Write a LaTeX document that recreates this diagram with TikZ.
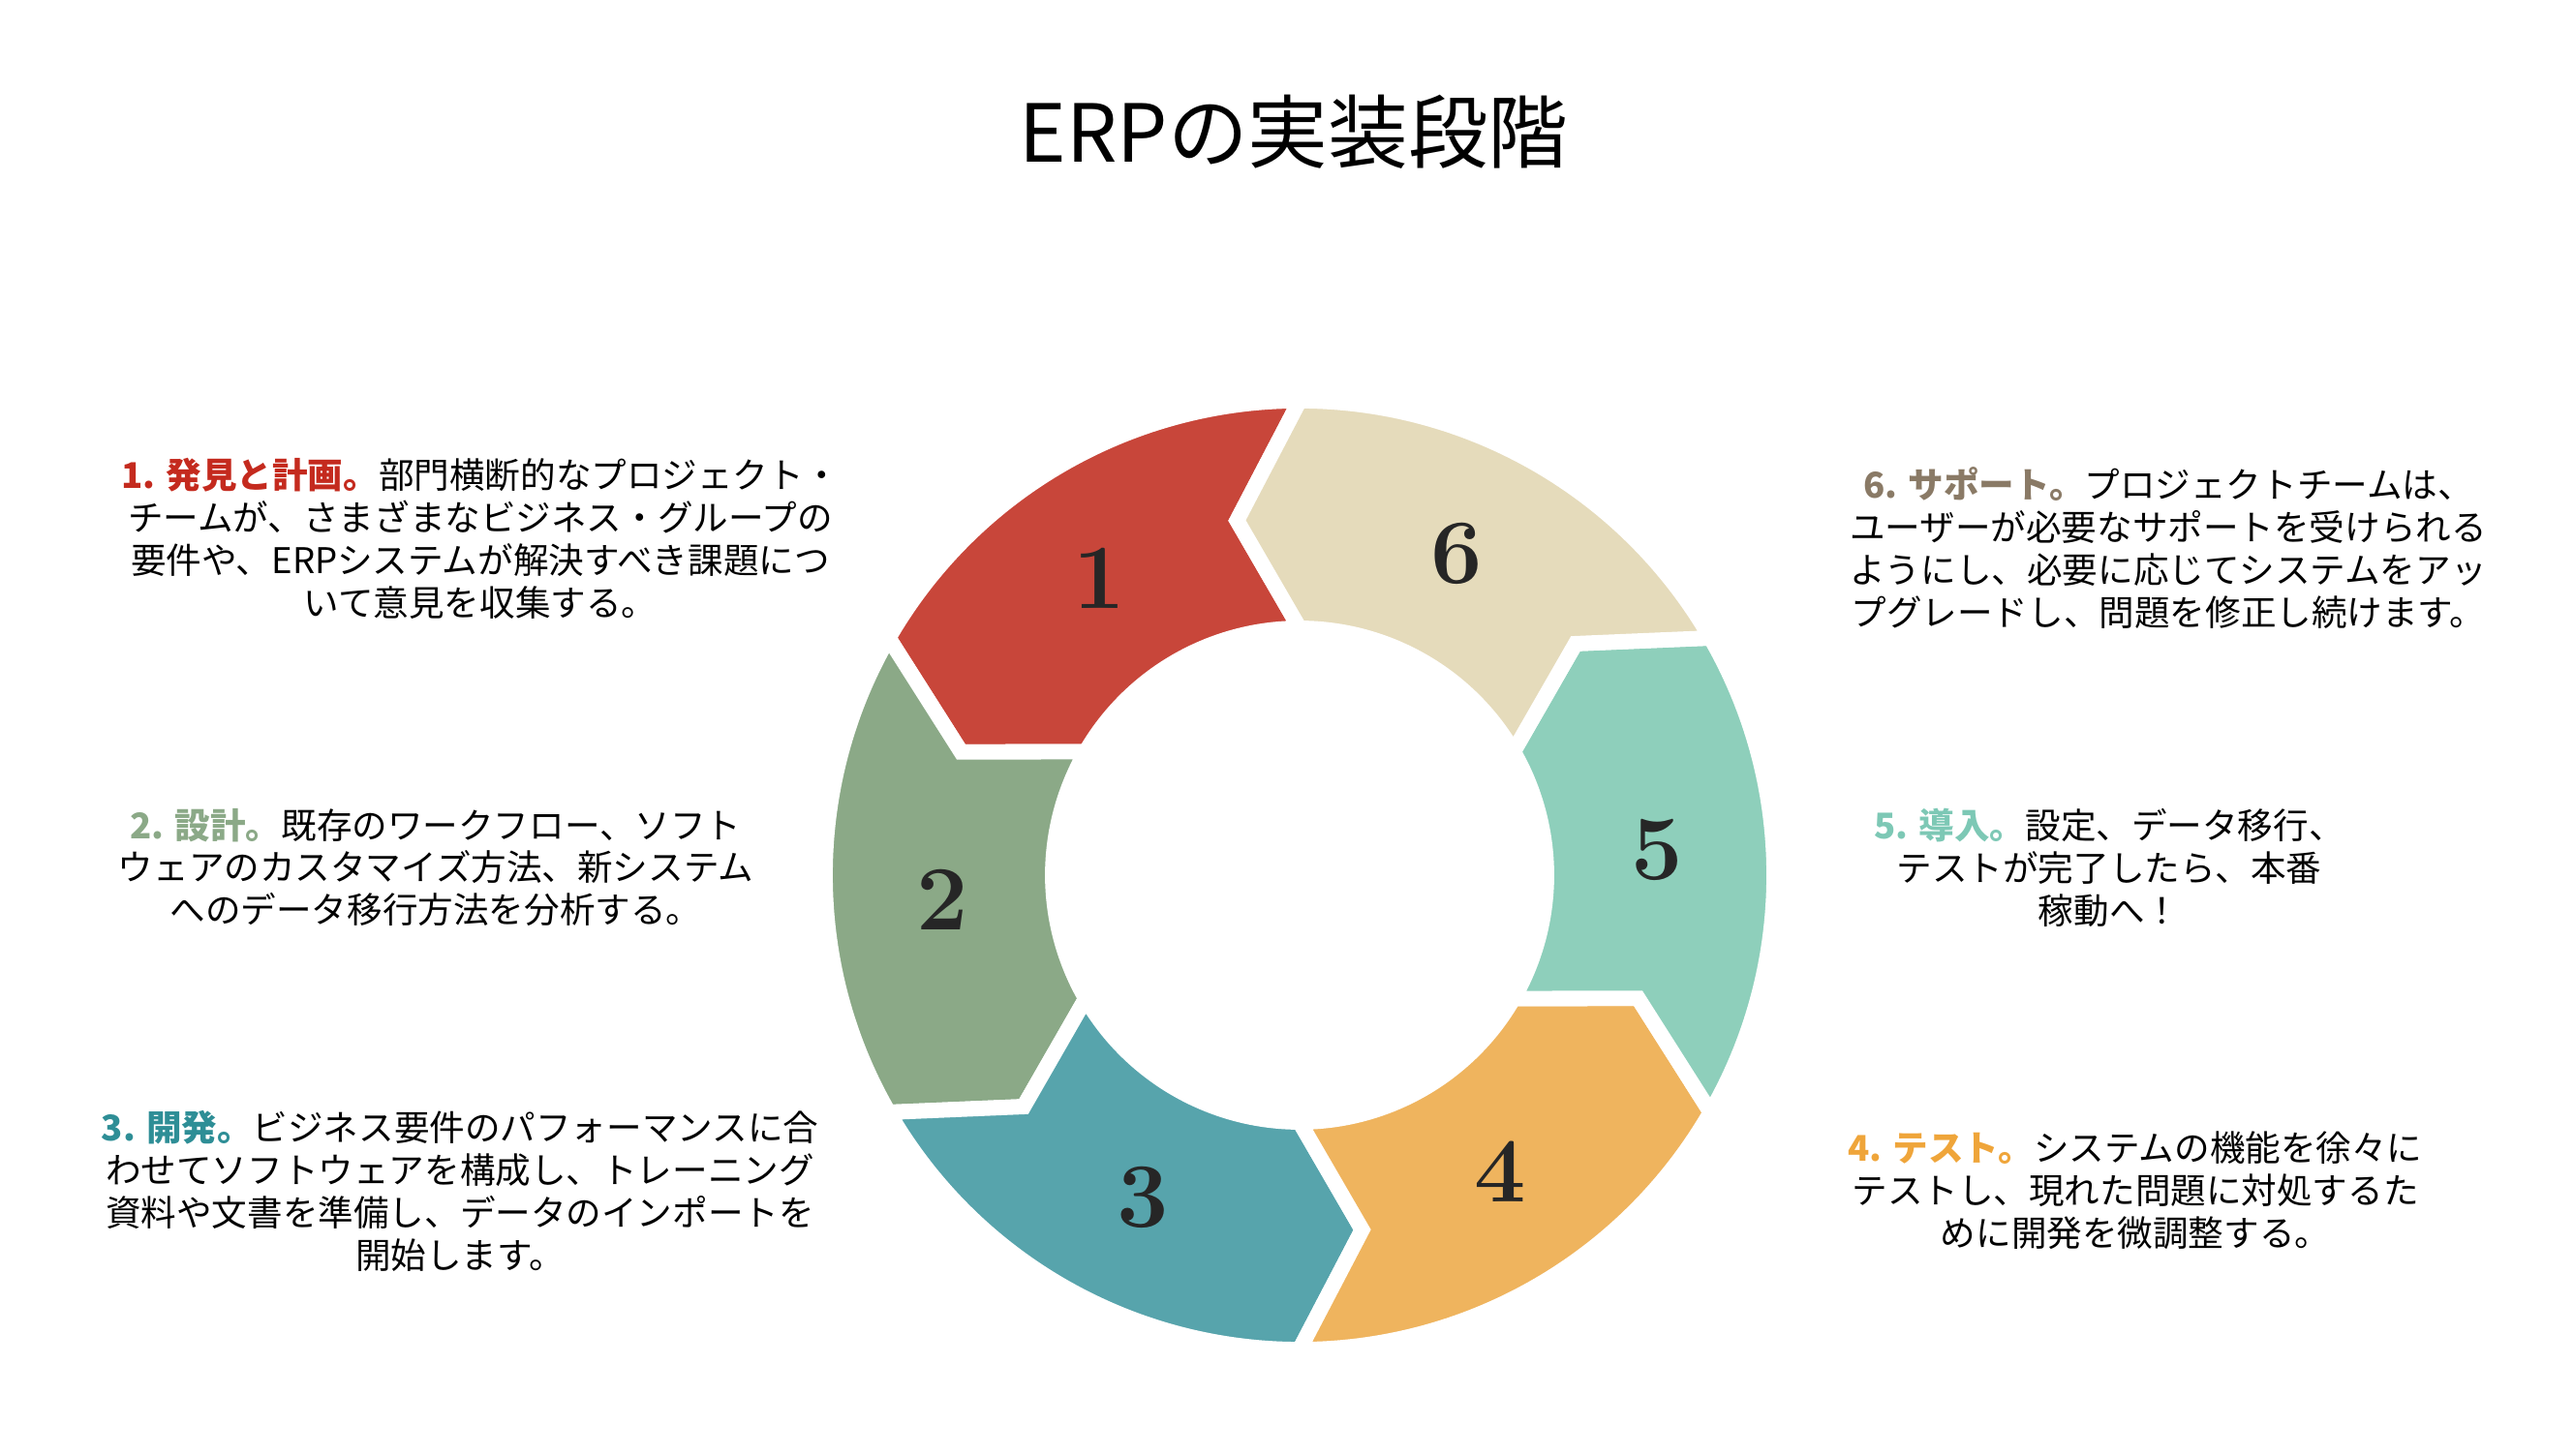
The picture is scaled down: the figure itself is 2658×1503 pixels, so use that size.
\documentclass[tikz,border=0pt]{standalone}
\usepackage{fontspec}
\setmainfont{Noto Sans CJK JP}
\newfontfamily\digitfont{Latin Modern Roman}
\usetikzlibrary{positioning, calc}
\definecolor{segred}{HTML}{C8463A}
\definecolor{segsand}{HTML}{E5DBBB}
\definecolor{segmint}{HTML}{8ECFBB}
\definecolor{segorange}{HTML}{EFB45E}
\definecolor{segteal}{HTML}{57A4AC}
\definecolor{seggreen}{HTML}{8BA987}
\definecolor{headred}{HTML}{C42A1E}
\definecolor{headgreen}{HTML}{8BA987}
\definecolor{headteal}{HTML}{2E8E96}
\definecolor{headorange}{HTML}{EFA53A}
\definecolor{headmint}{HTML}{7DC8B5}
\definecolor{headbrown}{HTML}{8A7A66}
\tikzset{
  segment/.style={draw=white, line width=4.5pt, line join=miter},
  segnum/.style={font=\digitfont\fontsize{27}{27}\selectfont\bfseries, text=black!85},
  desc/.style={align=center, font=\fontsize{10.4}{12.5}\selectfont, inner sep=0pt}
}
\begin{document}
\begin{tikzpicture}[x=0.01cm, y=0.01cm]
\useasboundingbox (0,0) rectangle (2658,1503);

\node (title) at (1336,1367) {\fontsize{23.5}{26}\selectfont ERPの実装段階};

% ring of arrows
\coordinate (c) at (1342,599);
\foreach \a/\col/\n in {90/segred/1, 150/seggreen/2, 210/segteal/3, 270/segorange/4, 330/segmint/5, 30/segsand/6}{
  \draw[segment, fill=\col] ($(c)+(\a:490)$) arc[start angle=\a, end angle=\a+60, radius=490]
    -- ($(c)+(\a+70:372)$) -- ($(c)+(\a+60:255)$)
    arc[start angle=\a+60, end angle=\a, radius=255]
    -- ($(c)+(\a+10:372)$) -- cycle;
  \node[segnum] (num\n) at ($(c)+(\a+34:370)$) {\n};
}

\node[desc] (step1) at (496,947) {{\bfseries\color{headred}1. 発見と計画。}部門横断的なプロジェクト・\\チームが、さまざまなビジネス・グループの\\要件や、ERPシステムが解決すべき課題につ\\いて意見を収集する。};
\node[desc] (step2) at (450,607) {{\bfseries\color{headgreen}2. 設計。}既存のワークフロー、ソフト\\ウェアのカスタマイズ方法、新システム\\へのデータ移行方法を分析する。};
\node[desc] (step3) at (475,273) {{\bfseries\color{headteal}3. 開発。}ビジネス要件のパフォーマンスに合\\わせてソフトウェアを構成し、トレーニング\\資料や文書を準備し、データのインポートを\\開始します。};
\node[desc] (step6) at (2239,937) {{\bfseries\color{headbrown}6. サポート。}プロジェクトチームは、\\ユーザーが必要なサポートを受けられる\\ようにし、必要に応じてシステムをアッ\\プグレードし、問題を修正し続けます。};
\node[desc] (step5) at (2178,607) {{\bfseries\color{headmint}5. 導入。}設定、データ移行、\\テストが完了したら、本番\\稼動へ！};
\node[desc] (step4) at (2205,273) {{\bfseries\color{headorange}4. テスト。}システムの機能を徐々に\\テストし、現れた問題に対処するた\\めに開発を微調整する。};
\end{tikzpicture}
\end{document}
